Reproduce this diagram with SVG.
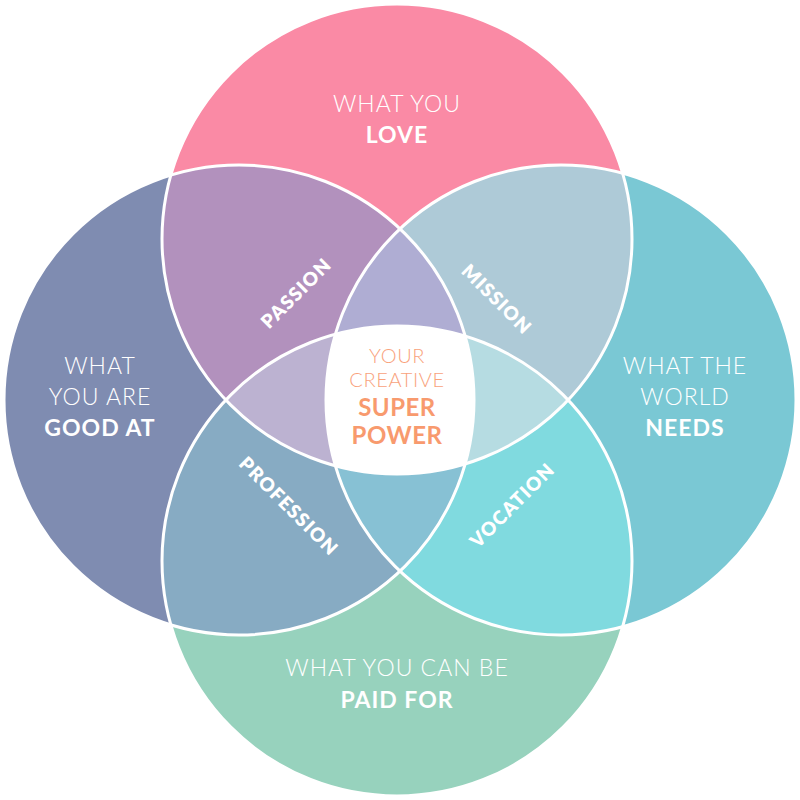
<svg xmlns="http://www.w3.org/2000/svg" width="800" height="800" viewBox="0 0 800 800">
<style>
.lbl{font-family:Lato,"Open Sans","Liberation Sans",sans-serif;fill:#fff;text-anchor:middle}
.lt{font-weight:300;font-size:23px;letter-spacing:1px}
.bd{font-weight:700;font-size:23px;letter-spacing:1px}
.rot{font-family:Lato,"Open Sans","Liberation Sans",sans-serif;fill:#fff;text-anchor:middle;font-weight:800;font-size:19px;letter-spacing:1.2px}
.ctr{font-family:Lato,"Open Sans","Liberation Sans",sans-serif;text-anchor:middle}
.outline{fill:none;stroke:#fff;stroke-width:3}
</style>
<defs>
<clipPath id="cT"><circle cx="397" cy="239" r="235"/></clipPath>
<clipPath id="cL"><circle cx="239" cy="400" r="235"/></clipPath>
<clipPath id="cR"><circle cx="561" cy="400" r="235"/></clipPath>
<clipPath id="cB"><circle cx="397" cy="561" r="235"/></clipPath>
</defs>
<rect width="800" height="800" fill="#fff"/>
<g id="base">
<circle cx="397" cy="239" r="235" fill="#FA8AA5"/>
<circle cx="239" cy="400" r="235" fill="#7F8CB1"/>
<circle cx="561" cy="400" r="235" fill="#7AC8D4"/>
<circle cx="397" cy="561" r="235" fill="#97D2BD"/>
</g>
<g id="overlaps">
<g clip-path="url(#cT)"><circle cx="239" cy="400" r="235" fill="#B291BD"/></g>
<g clip-path="url(#cT)"><circle cx="561" cy="400" r="235" fill="#AECAD7"/></g>
<g clip-path="url(#cB)"><circle cx="239" cy="400" r="235" fill="#87ABC3"/></g>
<g clip-path="url(#cB)"><circle cx="561" cy="400" r="235" fill="#80DADF"/></g>
<g clip-path="url(#cT)"><g clip-path="url(#cL)"><circle cx="561" cy="400" r="235" fill="#AFADD3"/></g></g>
<g clip-path="url(#cT)"><g clip-path="url(#cL)"><circle cx="397" cy="561" r="235" fill="#BCB2D1"/></g></g>
<g clip-path="url(#cT)"><g clip-path="url(#cR)"><circle cx="397" cy="561" r="235" fill="#B6DCE2"/></g></g>
<g clip-path="url(#cB)"><g clip-path="url(#cL)"><circle cx="561" cy="400" r="235" fill="#87C1D4"/></g></g>
<g clip-path="url(#cT)"><g clip-path="url(#cL)"><g clip-path="url(#cR)"><circle cx="397" cy="561" r="235" fill="#fff"/></g></g></g>
</g>
<g id="connectors">
<circle class="outline" cx="397" cy="239" r="235"/>
<circle class="outline" cx="239" cy="400" r="235"/>
<circle class="outline" cx="561" cy="400" r="235"/>
<circle class="outline" cx="397" cy="561" r="235"/>
</g>
<g id="love">
<text class="lbl lt" x="397" y="112">WHAT YOU</text>
<text class="lbl bd" x="397" y="143">LOVE</text>
</g>
<g id="good-at">
<text class="lbl lt" x="100" y="374">WHAT</text>
<text class="lbl lt" x="100" y="405">YOU ARE</text>
<text class="lbl bd" x="100" y="436">GOOD AT</text>
</g>
<g id="world-needs">
<text class="lbl lt" x="685" y="374">WHAT THE</text>
<text class="lbl lt" x="685" y="405">WORLD</text>
<text class="lbl bd" x="685" y="436">NEEDS</text>
</g>
<g id="paid-for">
<text class="lbl lt" x="397" y="676">WHAT YOU CAN BE</text>
<text class="lbl bd" x="397" y="708">PAID FOR</text>
</g>
<g id="passion"><text class="rot" transform="translate(296,293) rotate(-45)" y="7">PASSION</text></g>
<g id="mission"><text class="rot" transform="translate(497,299) rotate(45)" y="7">MISSION</text></g>
<g id="profession"><text class="rot" transform="translate(289,506) rotate(45)" y="7">PROFESSION</text></g>
<g id="vocation"><text class="rot" transform="translate(512,505) rotate(-45)" y="7">VOCATION</text></g>
<g id="superpower">
<text class="ctr" x="397" y="363" fill="#F9A27C" font-weight="300" font-size="20" letter-spacing="0.6">YOUR</text>
<text class="ctr" x="397" y="387" fill="#F9A27C" font-weight="300" font-size="20" letter-spacing="0.6">CREATIVE</text>
<text class="ctr" x="397" y="416" fill="#F89A6E" font-weight="700" font-size="24" letter-spacing="0.5">SUPER</text>
<text class="ctr" x="397" y="444" fill="#F89A6E" font-weight="700" font-size="24" letter-spacing="0.5">POWER</text>
</g>
</svg>
